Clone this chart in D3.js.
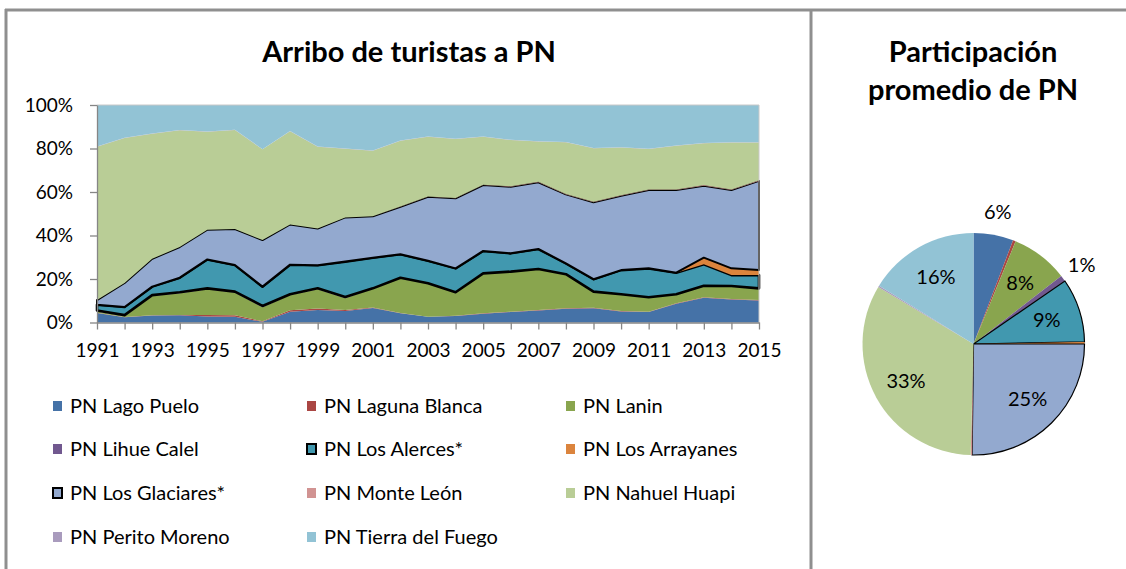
<!DOCTYPE html>
<html>
<head>
<meta charset="utf-8">
<script src="https://cdn.jsdelivr.net/npm/d3@7"></script>
<style>
  body { margin: 0; background: #fff; }
  svg { display: block; font-family: Lato, "Open Sans", sans-serif; }
</style>
</head>
<body>
<svg id="chart" width="1126" height="569"></svg>
<script>
// años
const years = [1991,1992,1993,1994,1995,1996,1997,1998,1999,2000,2001,2002,2003,
               2004,2005,2006,2007,2008,2009,2010,2011,2012,2013,2014,2015];

// participación anual (%)
const lagoPuelo      = [4.4,2.4,3.2,3.3,2.8,2.6,0.3,5.0,5.8,5.3,6.7,4.2,2.6,3.0,4.0,4.8,5.5,6.3,6.6,5.1,4.8,8.6,11.4,10.6,10.1];
const lagunaBlanca   = [0.1,0.1,0.1,0.2,0.6,0.7,0.3,0.6,0.6,0.4,0.2,0.2,0.1,0.1,0.2,0.2,0.2,0.2,0.2,0.2,0.2,0.2,0.2,0.2,0.2];
const lanin          = [0.6,0.5,8.9,10.0,11.9,10.5,6.4,7.0,8.9,5.5,8.6,16.0,15.1,10.6,18.2,18.2,18.7,15.5,7.2,7.5,6.4,4.0,5.1,5.8,5.2];
const lihueCalel     = [0.4,0.4,0.4,0.4,0.4,0.4,0.6,0.4,0.4,0.5,0.2,0.2,0.2,0.2,0.2,0.2,0.2,0.2,0.2,0.2,0.2,0.2,0.2,0.2,0.2];
const losAlerces     = [2.7,3.7,3.9,6.7,13.3,12.2,8.9,13.6,10.6,16.3,14.1,10.8,10.4,11.0,10.3,8.4,9.2,5.0,5.7,11.1,13.3,9.9,9.9,5.0,6.1];
const losArrayanes   = [0,0,0,0,0,0,0,0,0,0,0,0,0,0,0,0,0,0,0,0,0,0,3.0,3.1,2.3];
const losGlaciares   = [2.1,11.1,12.8,14.1,13.7,16.6,21.4,18.5,16.9,20.3,19.0,21.8,29.4,32.2,30.3,30.6,30.7,31.7,35.4,34.2,36.0,38.0,33.1,36.0,41.0];
const monteLeon      = [0,0,0,0,0,0,0,0,0,0,0,0.1,0.1,0.1,0.1,0.2,0.2,0.2,0.2,0.2,0.3,0.3,0.3,0.3,0.3];
const nahuelHuapi    = [70.5,66.6,57.5,53.7,45.0,45.5,41.7,42.8,37.6,31.6,30.2,30.3,27.5,27.2,22.1,21.3,18.5,23.8,24.6,22.0,18.6,20.1,19.2,21.6,17.4];
const peritoMoreno   = [0.1,0.1,0.1,0.1,0.1,0.1,0.1,0.1,0.1,0.1,0.1,0.1,0.1,0.1,0.1,0.1,0.1,0.1,0.1,0.1,0.1,0.1,0.1,0.1,0.1];
const tierraDelFuego = [19.1,15.1,13.1,11.5,12.2,11.4,20.3,12.0,19.1,20.0,20.9,16.3,14.5,15.5,14.5,16.0,16.7,17.0,19.8,19.4,20.1,18.6,17.5,17.1,17.1];

// participación promedio (%) para la torta
const pieShare = [5.8,0.4,8.3,0.9,9.3,0.3,25.2,0.2,33.2,0.2,16.2];

const parks = ["PN Lago Puelo","PN Laguna Blanca","PN Lanin","PN Lihue Calel","PN Los Alerces*",
               "PN Los Arrayanes","PN Los Glaciares*","PN Monte León","PN Nahuel Huapi",
               "PN Perito Moreno","PN Tierra del Fuego"];
const colors = ["#4572A7","#AA4643","#89A54E","#71588F","#4198AF","#DB843D",
                "#93A9CF","#D19392","#B9CD96","#A99BBD","#92C3D5"];
const outlined = [false,false,false,false,true,false,true,false,false,false,false];
const yTicks = [0,0.2,0.4,0.6,0.8,1];

const series = [lagoPuelo,lagunaBlanca,lanin,lihueCalel,losAlerces,losArrayanes,
                losGlaciares,monteLeon,nahuelHuapi,peritoMoreno,tierraDelFuego];

const rows = years.map((yr, i) => {
  const r = {year: yr};
  parks.forEach((p, k) => r[p] = series[k][i]);
  return r;
});

const svg = d3.select("#chart");
svg.append("rect").attr("width",1126).attr("height",569).attr("fill","#fff");

// marcos
const frame = "#8f8f8f";
svg.append("line").attr("x1",5).attr("x2",1126).attr("y1",10).attr("y2",10)
  .attr("stroke",frame).attr("stroke-width",3);
svg.append("line").attr("x1",6).attr("x2",6).attr("y1",9).attr("y2",569)
  .attr("stroke",frame).attr("stroke-width",3);
svg.append("line").attr("x1",811).attr("x2",811).attr("y1",9).attr("y2",569)
  .attr("stroke",frame).attr("stroke-width",3);

// ---------- área apilada 100% ----------
const plotL = 97, plotR = 759, plotT = 105, plotB = 322.5;
const x = d3.scaleLinear().domain([1991, 2015]).range([plotL, plotR]);
const y = d3.scaleLinear().domain([0, 1]).range([plotB, plotT]);

const stack = d3.stack().keys(parks).offset(d3.stackOffsetExpand);
const layers = stack(rows);

const area = d3.area()
  .x(d => x(d.data.year))
  .y0(d => y(d[0]))
  .y1(d => y(d[1]));

svg.append("g").selectAll("path")
  .data(layers)
  .join("path")
  .attr("d", area)
  .attr("fill", (d, i) => colors[i])
  .attr("stroke", (d, i) => outlined[i] ? "#000" : "none")
  .attr("stroke-width", (d, i) => i === 4 ? 2.6 : 2)
  .attr("stroke-linejoin", "round");

// borde superior / derecho del área de trazado
svg.append("path")
  .attr("d", `M${plotL},${plotT}H${plotR}V${plotB}`)
  .attr("fill","none").attr("stroke","#c8c8c8").attr("stroke-width",1);

const axisColor = "#868686";
const xAxis = svg.append("g")
  .attr("transform", `translate(0,${plotB})`)
  .call(d3.axisBottom(x).tickValues(years)
    .tickFormat(d => (d - 1991) % 2 === 0 ? d : "")
    .tickSize(7).tickSizeOuter(0).tickPadding(14));
const yAxis = svg.append("g")
  .attr("transform", `translate(${plotL},0)`)
  .call(d3.axisLeft(y).tickValues(yTicks).tickFormat(d3.format(".0%"))
    .tickSize(7).tickSizeOuter(0).tickPadding(17));
[xAxis, yAxis].forEach(g => {
  g.select(".domain").attr("stroke", axisColor).attr("stroke-width", 1.3);
  g.selectAll(".tick line").attr("stroke", axisColor).attr("stroke-width", 1.3);
  g.selectAll(".tick text").attr("fill", "#000")
    .style("font-size", "19px").style("font-family", "Lato, sans-serif");
});

svg.append("text")
  .attr("x", 409).attr("y", 62)
  .attr("text-anchor", "middle")
  .style("font-size", "29px").style("font-weight", "bold")
  .text("Arribo de turistas a PN");

// leyenda
const legCols = [53, 307, 566];
const legRows = [406, 449, 493, 537];
const legend = svg.append("g").selectAll("g")
  .data(parks)
  .join("g")
  .attr("transform", (d, i) => `translate(${legCols[i % 3]},${legRows[Math.floor(i / 3)]})`);
legend.append("rect")
  .attr("x", 0).attr("y", -5).attr("width", 9).attr("height", 10)
  .attr("fill", (d, i) => colors[i])
  .attr("stroke", (d, i) => outlined[i] ? "#000" : "none")
  .attr("stroke-width", 2);
legend.append("text")
  .attr("x", 17).attr("dy", "0.35em")
  .style("font-size", "20px")
  .text(d => d);

// ---------- torta ----------
const cx = 973.5, cy = 344, R = 111;
const pie = d3.pie().sort(null).value(d => d);
const arc = d3.arc().innerRadius(0).outerRadius(R);
const slices = pie(pieShare);

const pg = svg.append("g").attr("transform", `translate(${cx},${cy})`);
pg.selectAll("path")
  .data(slices)
  .join("path")
  .attr("d", arc)
  .attr("fill", (d, i) => colors[i])
  .attr("stroke", (d, i) => outlined[i] ? "#000" : "none")
  .attr("stroke-width", 1.2);

const inner = d3.arc().innerRadius(77).outerRadius(77);
const outer = d3.arc().innerRadius(134).outerRadius(134);
pg.selectAll("text")
  .data(slices.filter(d => d.value >= 0.5))
  .join("text")
  .attr("transform", d => `translate(${(d.value < 7 ? outer : inner).centroid(d)})`)
  .attr("text-anchor", "middle")
  .attr("dy", "0.35em")
  .style("font-size", "20px")
  .text(d => Math.round(d.value) + "%");

const pt = svg.append("text")
  .attr("x", 973).attr("text-anchor", "middle")
  .style("font-size", "29px").style("font-weight", "bold");
pt.append("tspan").attr("x", 973).attr("y", 62).text("Participación");
pt.append("tspan").attr("x", 973).attr("y", 100).text("promedio de PN");
</script>
</body>
</html>
